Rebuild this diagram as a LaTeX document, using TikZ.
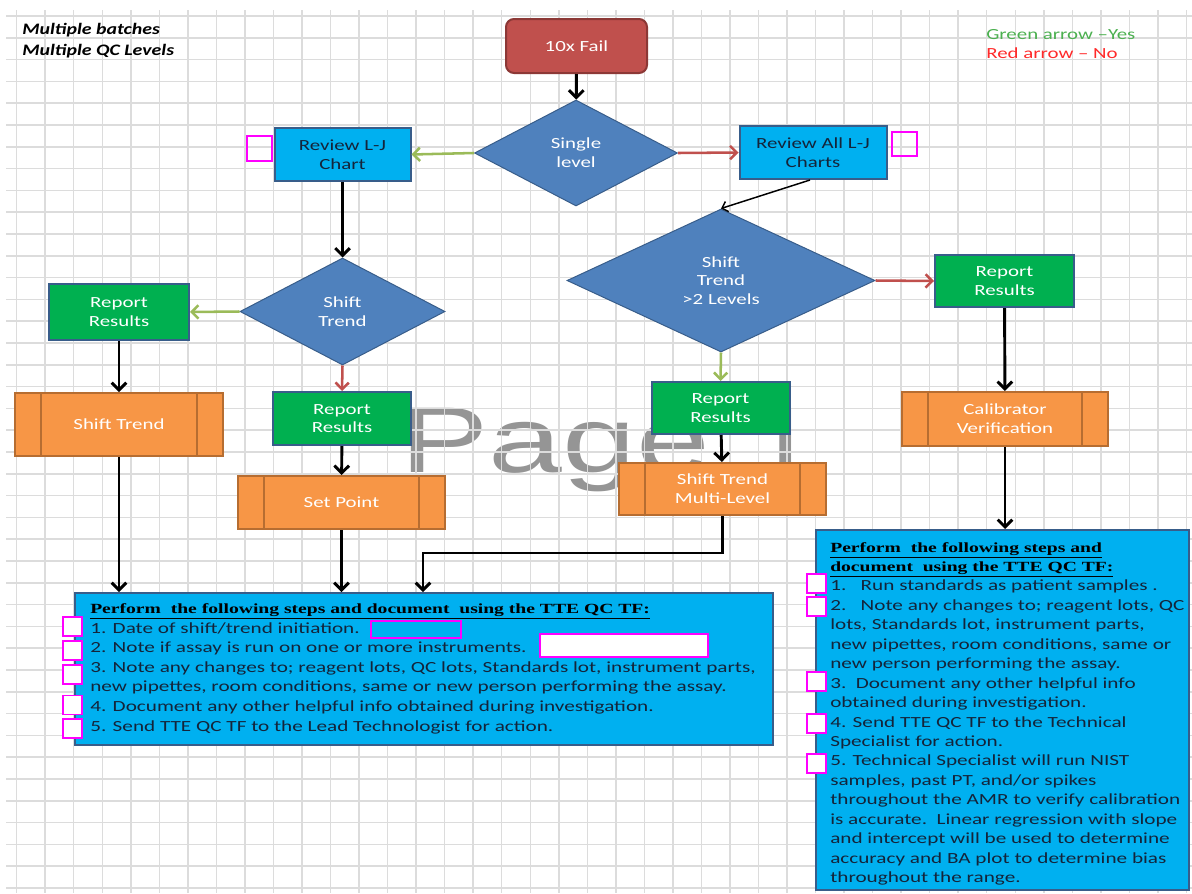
\documentclass[tikz,border=0pt]{standalone}
\usepackage{fontspec}
\setmainfont{Carlito}
\newfontfamily\bxf[FakeStretch=1.35]{Carlito}
\newfontfamily\insf[FakeStretch=1.37]{Carlito}
\newfontfamily\hdf[FakeStretch=1.24]{Carlito}
\newfontfamily\ttlf[FakeStretch=1.4]{Liberation Serif}
\newfontfamily\wmf[FakeStretch=1.42]{Liberation Sans}
\usetikzlibrary{arrows.meta,shapes.geometric}
\definecolor{failred}{HTML}{C0504D}
\definecolor{failbord}{HTML}{8C3836}
\definecolor{diafill}{HTML}{4F81BD}
\definecolor{bordblue}{HTML}{385D8A}
\definecolor{cyanf}{HTML}{00B0F0}
\definecolor{greenf}{HTML}{00B050}
\definecolor{orangef}{HTML}{F79646}
\definecolor{orangeb}{HTML}{B66D31}
\definecolor{yesgreen}{HTML}{9BBB59}
\definecolor{nored}{HTML}{C0504D}
\definecolor{gridc}{HTML}{DCDCDC}
\definecolor{mag}{HTML}{FF00FF}
\definecolor{txtdark}{HTML}{14243A}
\definecolor{leggreen}{HTML}{4CB050}
\definecolor{legred}{HTML}{FF2A2A}
\definecolor{wmgray}{HTML}{959595}
\tikzset{
 base/.style={inner sep=0pt, align=center, font=\bxf\fontsize{11.6}{14}\selectfont},
 sz/.style 2 args={minimum width=#1*0.75pt, minimum height=#2*0.75pt},
 cyanbox/.style={base, draw=bordblue, fill=cyanf, line width=1.5pt, text=txtdark},
 greenbox/.style={base, draw=bordblue, fill=greenf, line width=1.5pt, text=white},
 procbox/.style={base, draw=orangeb, fill=orangef, line width=1.5pt, text=white},
 decis/.style={base, diamond, draw=bordblue, fill=diafill, line width=0.75pt, text=white},
 infobox/.style={draw=bordblue, fill=cyanf, line width=1.5pt, inner sep=0pt},
 blk/.style={draw=black, line width=2.2pt, -{Straight Barb[length=5.5pt,width=11pt]}},
 thinblk/.style={draw=black, line width=1.1pt, -{Straight Barb[length=4pt,width=8pt]}},
 yes/.style={draw=yesgreen, line width=1.9pt, -{Straight Barb[length=5pt,width=10pt]}},
 no/.style={draw=nored, line width=1.9pt, -{Straight Barb[length=5pt,width=10pt]}},
 chk/.style={draw=mag, fill=white, line width=1.2pt, sz={19}{19}, inner sep=0pt},
 insl/.style={anchor=base west, inner sep=0pt, font=\insf\fontsize{11.6}{14}\selectfont, text=txtdark},
 ttl/.style={anchor=base west, inner sep=0pt, font=\ttlf\bfseries\fontsize{10.5}{13}\selectfont, text=black},
 procline/.style={draw=orangeb, line width=1.5pt},
}
\begin{document}
\begin{tikzpicture}[x=0.75pt,y=-0.75pt]
\useasboundingbox (0,0) rectangle (1192,893);
\fill[white] (0,0) rectangle (1192,893);
% watermark
\node[anchor=base west, inner sep=0pt, text=wmgray, font=\wmf\fontsize{70}{70}\selectfont] (wm) at (400,472) {Page 1};
% grid
\foreach \i in {0,...,41} {\draw[gridc, line width=1.1pt] ({16.7+28.53*\i},10) -- ({16.7+28.53*\i},893);}
\foreach \j in {0,...,40} {\draw[gridc, line width=1.1pt] (6,{16+21.8*\j}) -- (1192,{16+21.8*\j});}
% header texts
\node[anchor=base west, inner sep=0pt, font=\hdf\bfseries\itshape\fontsize{12}{14}\selectfont] (h1) at (22,34) {Multiple batches};
\node[anchor=base west, inner sep=0pt, font=\hdf\bfseries\itshape\fontsize{12}{14}\selectfont] (h2) at (22,55) {Multiple QC Levels};
\node[anchor=base west, inner sep=0pt, text=leggreen, font=\bxf\fontsize{11.6}{14}\selectfont] (lg1) at (986,39) {Green arrow –Yes};
\node[anchor=base west, inner sep=0pt, text=legred, font=\bxf\fontsize{11.6}{14}\selectfont] (lg2) at (986,58) {Red arrow – No};
% nodes
\node[base, draw=failbord, fill=failred, line width=1.5pt, rounded corners=6pt, text=white, sz={141}{54}] (fail) at (576.5,46) {10x Fail};
\node[decis, sz={203}{106}] (single) at (576,153) {Single\\level};
\node[cyanbox, sz={136}{53}] (rlj) at (342.5,154.5) {Review L-J\\Chart};
\node[cyanbox, sz={147}{53}] (rall) at (813,152.5) {Review All L-J\\Charts};
\node[decis, sz={205}{107}] (st) at (342.5,311.5) {Shift\\Trend};
\node[greenbox, sz={140}{56}] (rr1) at (119,312) {Report\\Results};
\node[greenbox, sz={138}{53}] (rr2) at (342,418.5) {Report\\Results};
\node[procbox, sz={208}{63}] (pst) at (119,424.5) {Shift Trend};
\node[procbox, sz={207}{53}] (psp) at (341.5,502.5) {Set Point};
\node[decis, sz={308}{143}] (st2) at (721,280.5) {Shift\\Trend\\>2 Levels};
\node[greenbox, sz={139}{52}] (rr3) at (1004.5,281) {Report\\Results};
\node[greenbox, sz={138}{52}] (rr4) at (720.5,408) {Report\\Results};
\node[procbox, sz={207}{52}] (pml) at (722.5,489) {Shift Trend\\Multi-Level};
\node[procbox, sz={206}{54}] (pcal) at (1005,419) {Calibrator\\Verification};
\foreach \n in {pst,psp,pml,pcal} {
  \draw[procline] ([xshift=20.25pt]\n.north west) -- ([xshift=20.25pt]\n.south west);
  \draw[procline] ([xshift=-20.25pt]\n.north east) -- ([xshift=-20.25pt]\n.south east);
}
% info boxes
\node[infobox, sz={698}{152}] (lbox) at (424,669) {};
\node[infobox, sz={373}{360}] (rbox) at (1002.5,710) {};
% small magenta boxes near review nodes
\node[chk, fill=none, sz={25}{25}] (m1) at (259.5,148.5) {};
\node[chk, fill=none, sz={25}{24}] (m2) at (904.5,144) {};
% connectors
\draw[blk] (fail) -- (single);
\draw[yes] (single.west) -- (rlj.east);
\draw[no] (single.east) -- (rall.west);
\draw[blk] (rlj) -- (st);
\draw[yes] (st.west) -- (rr1.east);
\draw[no] (st.south) -- (rr2.north);
\draw[blk] (rr1) -- (pst);
\draw[blk] (rr2) -- (psp);
\draw[blk] (pst.south) -- (pst.south |- lbox.north);
\draw[blk] (psp.south) -- (psp.south |- lbox.north);
\draw[thinblk] ([xshift=-2.25pt]rall.south) -- (st2.north);
\draw[no] (st2.east) -- (rr3.west);
\draw[yes] (st2.south) -- (rr4.north);
\draw[blk] (rr3) -- (pcal);
\draw[blk] (rr4) -- (pml);
\draw[blk] (pcal.south) -- (pcal.south |- rbox.north);
\coordinate (j1) at (423,553);
\draw[blk] (pml.south) |- (j1) -- (j1 |- lbox.north);
% left box text
\node[ttl] (lt) at (90,613) {\underline{Perform\ \ the following steps and document\ \ using the TTE QC TF:}};
\foreach \t [count=\i from 0] in {{1. Date of shift/trend initiation.},{2. Note if assay is run on one or more instruments.},{3. Note any changes to; reagent lots, QC lots, Standards lot, instrument parts,},{new pipettes, room conditions, same or new person performing the assay.},{4. Document any other helpful info obtained during investigation.},{5. Send TTE QC TF to the Lead Technologist for action.}}
  {\node[insl] (L\i) at (90,{633+19.6*\i}) {\t};}
\draw[mag, line width=1.2pt] (371,621) rectangle (461,638);
\node[chk, sz={168}{23}] (f2) at (624,645.5) {};
\foreach \y [count=\k] in {626.5,650.5,674.5,705,728.5} {\node[chk] (cl\k) at (72.5,\y) {};}
% right box text
\node[ttl] (rt1) at (830,552) {\underline{Perform\ \ the following steps and}};
\node[ttl] (rt2) at (830,571.5) {\underline{document\ \ using the TTE QC TF:}};
\foreach \t [count=\i from 2] in {{1.\ \ \ Run standards as patient samples .},{2.\ \ \ Note any changes to; reagent lots, QC},{lots, Standards lot, instrument parts,},{new pipettes, room conditions, same or},{new person performing the assay.},{3.\ \ Document any other helpful info},{obtained during investigation.},{4. Send TTE QC TF to the Technical},{Specialist for action.},{5. Technical Specialist will run NIST},{samples, past PT, and/or spikes},{throughout the AMR to verify calibration},{is accurate.\ \ Linear regression with slope},{and intercept will be used to determine},{accuracy and BA plot to determine bias},{throughout the range.}}
  {\node[insl] (R\i) at (830,{552+19.45*\i}) {\t};}
\foreach \y [count=\k] in {583.5,606.5,681.5,723.5,763.5} {\node[chk] (cr\k) at (816.5,\y) {};}
\end{tikzpicture}
\end{document}
